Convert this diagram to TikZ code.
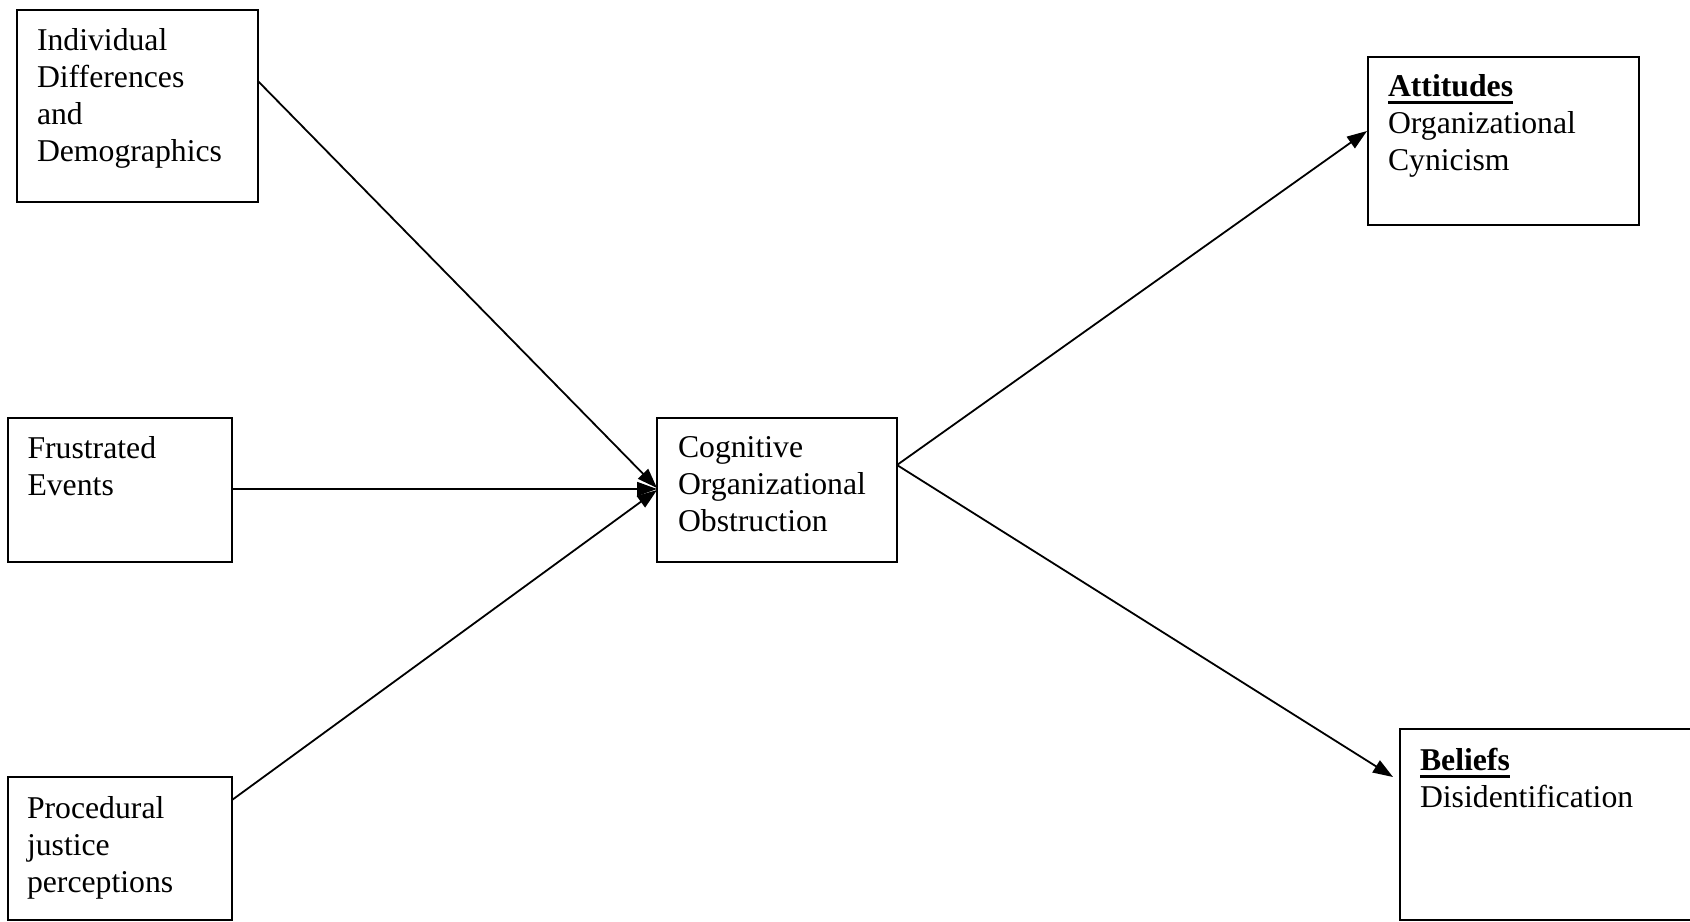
\documentclass[tikz,border=0pt]{standalone}
\usepackage{fontspec}
\setmainfont{Liberation Serif}
\usetikzlibrary{arrows.meta,calc}
\newlength\ulw
\newcommand\ulbf[1]{\settowidth\ulw{\textbf{#1}}\textbf{#1}\hspace{-\ulw}\rule[-4.1pt]{\ulw}{1.5pt}}
\newcommand\txtlines[1]{\parbox[t]{150pt}{\fontsize{15.86pt}{18.5pt}\selectfont\raggedright #1}}
\begin{document}
\begin{tikzpicture}[x=0.5pt,y=-0.5pt,
  box/.style={draw, line width=1pt, rectangle, inner sep=0pt, outer sep=0pt, anchor=north west},
  lbl/.style={anchor=base west, inner sep=0pt, outer sep=0pt, font=\fontsize{15.86pt}{18.5pt}\selectfont},
  arr/.style={line width=0.9pt, -{Triangle[length=10pt,width=7pt]}}]
\useasboundingbox (0,0) rectangle (1690,921);
\clip (0,0) rectangle (1690,921);
% boxes
\node[box, minimum width=120.3pt, minimum height=95.9pt] (b1) at (17,9.7) {};
\node[box, minimum width=112.25pt, minimum height=71.75pt] (b2) at (7.5,418) {};
\node[box, minimum width=112pt, minimum height=71.5pt] (b3) at (8,777) {};
\node[box, minimum width=120pt, minimum height=72pt] (cog) at (657,418) {};
\node[box, minimum width=135.5pt, minimum height=84pt] (att) at (1368,57) {};
\node[box, minimum width=150pt, minimum height=95.5pt] (bel) at (1400,729) {};
% texts
\node[lbl] (t1) at ($(b1.north west)+(20,40.5)$) {\txtlines{Individual\\Differences\\and\\Demographics}};
\node[lbl] (t2) at ($(b2.north west)+(20,40.5)$) {\txtlines{Frustrated\\Events}};
\node[lbl] (t3) at ($(b3.north west)+(19,41)$) {\txtlines{Procedural\\justice\\perceptions}};
\node[lbl] (tc) at ($(cog.north west)+(21,39.5)$) {\txtlines{Cognitive\\Organizational\\Obstruction}};
\node[lbl] (ta) at ($(att.north west)+(20,39)$) {\txtlines{\ulbf{Attitudes}\\Organizational\\Cynicism}};
\node[lbl] (tb) at ($(bel.north west)+(20,41)$) {\txtlines{\ulbf{Beliefs}\\Disidentification}};
% connectors
\draw[arr] ($(b1.north east)+(0,71)$) -- ($(cog.north west)+(0,70)$);
\draw[arr] ($(b2.north east)+(0,71)$) -- ($(cog.north west)+(0,71)$);
\draw[arr] ($(b3.north east)+(0,23)$) -- ($(cog.north west)+(0,72)$);
\draw[arr] ($(cog.north east)+(0,47)$) -- ($(att.north west)+(-1,74)$);
\draw[arr] ($(cog.north east)+(0,47)$) -- ($(bel.north west)+(-7,48)$);
\end{tikzpicture}
\end{document}
